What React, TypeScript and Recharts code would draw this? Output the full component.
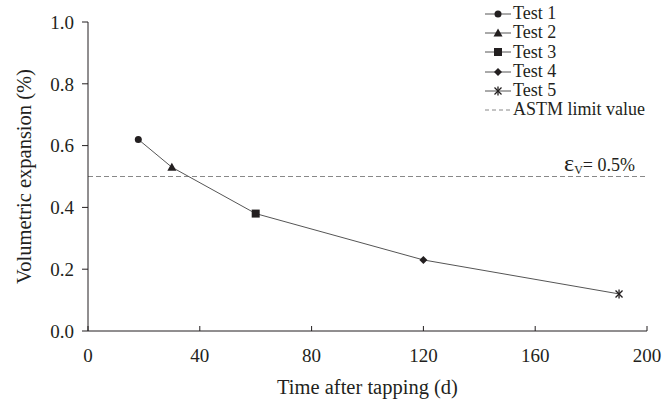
import { Line, LineChart, ReferenceLine, XAxis, YAxis } from 'recharts';

const days = [18, 30, 60, 120, 190];
const expansion = [0.62, 0.53, 0.38, 0.23, 0.12];
const testNames = ['Test 1', 'Test 2', 'Test 3', 'Test 4', 'Test 5'];
const markerKinds = ['circle', 'triangle', 'square', 'diamond', 'star'];
const astmLimit = 0.5;
const xTicks = [0, 40, 80, 120, 160, 200];
const yTicks = [0, 0.2, 0.4, 0.6, 0.8, 1.0];

const data = days.map((d, i) => ({ day: d, value: expansion[i], name: testNames[i], kind: markerKinds[i] }));

const ink = '#231f20';
const font = '"Liberation Serif", "Times New Roman", serif';

function Marker({ kind, cx, cy }: { kind: string; cx: number; cy: number }) {
  if (kind === 'circle') return <circle cx={cx} cy={cy} r={3.5} fill={ink} />;
  if (kind === 'triangle')
    return <polygon points={`${cx},${cy - 4.5} ${cx + 4.5},${cy + 3.5} ${cx - 4.5},${cy + 3.5}`} fill={ink} />;
  if (kind === 'square') return <rect x={cx - 4} y={cy - 4} width={8} height={8} fill={ink} />;
  if (kind === 'diamond')
    return <polygon points={`${cx},${cy - 4} ${cx + 4},${cy} ${cx},${cy + 4} ${cx - 4},${cy}`} fill={ink} />;
  return (
    <g stroke={ink} strokeWidth={1.3}>
      <line x1={cx - 3.5} y1={cy - 3.5} x2={cx + 3.5} y2={cy + 3.5} />
      <line x1={cx - 3.5} y1={cy + 3.5} x2={cx + 3.5} y2={cy - 3.5} />
      <line x1={cx} y1={cy - 4.5} x2={cx} y2={cy + 4.5} />
    </g>
  );
}

// x ticks point inward (up), labels below
function XTick(props: any) {
  const { x, y, payload } = props;
  const axisY = y - 13;
  return (
    <g>
      <line x1={x} x2={x} y1={axisY} y2={axisY - 5} stroke={ink} />
      <text x={x} y={y} dy={18} textAnchor="middle" fill={ink} fontSize={19} fontFamily={font}>
        {payload.value}
      </text>
    </g>
  );
}

function LimitLabel(props: any) {
  const { viewBox } = props;
  const right = viewBox.x + viewBox.width - 12;
  return (
    <text x={right} y={viewBox.y - 6} textAnchor="end" fill={ink} fontFamily={font} fontSize={18}>
      <tspan fontSize={24}>ε</tspan>
      <tspan fontSize={12} dy={3}>V</tspan>
      <tspan dy={-3}>= 0.5%</tspan>
    </text>
  );
}

function LegendBox() {
  const rows = testNames.map((n, i) => ({ label: n, kind: markerKinds[i] }));
  return (
    <div style={{ position: 'absolute', left: 485, top: 4, fontFamily: font, fontSize: 18, color: ink, lineHeight: '19.3px' }}>
      {rows.map((r) => (
        <div key={r.label} style={{ display: 'flex', alignItems: 'center', height: 19.3 }}>
          <svg width={27} height={14}>
            <line x1={0} x2={26} y1={7} y2={7} stroke="#555" strokeWidth={1} />
            <Marker kind={r.kind} cx={13} cy={7} />
          </svg>
          <span style={{ marginLeft: 1 }}>{r.label}</span>
        </div>
      ))}
      <div style={{ display: 'flex', alignItems: 'center', height: 19.3 }}>
        <svg width={27} height={14}>
          <line x1={0} x2={26} y1={7} y2={7} stroke="#888" strokeWidth={1} strokeDasharray="4 3" />
        </svg>
        <span style={{ marginLeft: 1 }}>ASTM limit value</span>
      </div>
    </div>
  );
}

export default function App() {
  return (
    <div style={{ position: 'absolute', left: 0, top: 0, width: 671, height: 399, background: '#fff' }}>
      <LineChart width={671} height={399} data={data} margin={{ top: 22, right: 24, bottom: 0, left: 0 }}>
        <XAxis
          dataKey="day"
          type="number"
          domain={[0, 200]}
          ticks={xTicks}
          tickSize={0}
          tickMargin={13}
          tickLine={false}
          tick={<XTick />}
          height={68}
          stroke={ink}
          label={{ value: 'Time after tapping (d)', position: 'insideBottom', offset: 5, fill: ink, fontSize: 20.5, fontFamily: font }}
        />
        <YAxis
          type="number"
          domain={[0, 1]}
          ticks={yTicks}
          width={88}
          tickSize={6}
          tickMargin={8}
          stroke={ink}
          tickFormatter={(v: number) => v.toFixed(1)}
          tick={{ fill: ink, fontSize: 19, fontFamily: font }}
          label={{ value: 'Volumetric expansion (%)', angle: -90, position: 'insideLeft', offset: 24, style: { textAnchor: 'middle' }, fill: ink, fontSize: 20.5, fontFamily: font }}
        />
        <ReferenceLine y={astmLimit} stroke="#888" strokeDasharray="5 3" label={<LimitLabel />} />
        <Line
          dataKey="value"
          stroke="#555"
          strokeWidth={1}
          isAnimationActive={false}
          dot={(p: any) => <Marker key={p.index} kind={p.payload.kind} cx={p.cx} cy={p.cy} />}
          activeDot={false}
        />
      </LineChart>
      <LegendBox />
    </div>
  );
}
